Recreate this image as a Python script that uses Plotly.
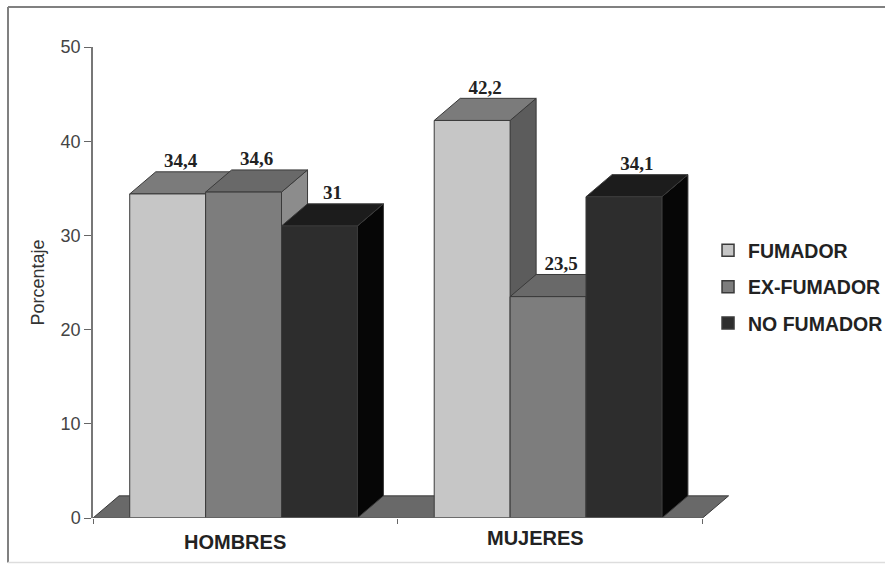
import plotly.graph_objects as go

categories = ["HOMBRES", "MUJERES"]
series_names = ["FUMADOR", "EX-FUMADOR", "NO FUMADOR"]
fumador = [34.4, 42.2]
ex_fumador = [34.6, 23.5]
no_fumador = [31.0, 34.1]
value_labels = [["34,4", "42,2"], ["34,6", "23,5"], ["31", "34,1"]]
y_ticks = [0, 10, 20, 30, 40, 50]

FRONT = ["#c6c6c6", "#7d7d7d", "#2d2d2d"]
TOP = ["#7b7b7b", "#696969", "#1c1c1c"]
SIDE = ["#5c5c5c", "#8c8c8c", "#060606"]
EDGE = "#3a3a3a"
BW = 0.249
DX = 0.0854
DY = 2.35
CENTERS = [0.494, 1.493]
XMAX = 2.09

series = [fumador, ex_fumador, no_fumador]
fig = go.Figure()


def poly(xs, ys, color):
    fig.add_trace(go.Scatter(
        x=xs + xs[:1], y=ys + ys[:1], mode="lines", fill="toself", fillcolor=color,
        line=dict(color=EDGE, width=1), hoverinfo="skip", showlegend=False,
    ))


# floor
poly([0, 2, 2 + DX, DX], [0, 0, DY, DY], "#696969")

# bars, painted left to right so later faces overlap earlier ones
for g, c in enumerate(CENTERS):
    for s, vals in enumerate(series):
        v = vals[g]
        x0 = c + (s - 1.5) * BW
        x1 = x0 + BW
        poly([x1, x1 + DX, x1 + DX, x1], [0, DY, v + DY, v], SIDE[s])
        poly([x0, x1, x1 + DX, x0 + DX], [v, v, v + DY, v + DY], TOP[s])
        poly([x0, x1, x1, x0], [0, 0, v, v], FRONT[s])

# x axis line
fig.add_trace(go.Scatter(x=[0, 2], y=[0, 0], mode="lines", line=dict(color="#666", width=1.5),
                         hoverinfo="skip", showlegend=False))

# value labels
for g, c in enumerate(CENTERS):
    for s, vals in enumerate(series):
        x0 = c + (s - 1.5) * BW
        fig.add_trace(go.Scatter(
            x=[x0 + BW / 2 + DX / 2], y=[vals[g] + DY], mode="text",
            text=[f"<b>{value_labels[s][g]}</b>"], textposition="top center",
            textfont=dict(family="Liberation Serif", size=19, color="#222"),
            hoverinfo="skip", showlegend=False, cliponaxis=False,
        ))

# legend entries
for s, name in enumerate(series_names):
    fig.add_trace(go.Scatter(
        x=[None], y=[None], mode="markers", name=name, legendgroup=name,
        marker=dict(symbol="square", size=12, color=FRONT[s], line=dict(color=EDGE, width=1.5)),
    ))

for name, xpos, ypos in zip(categories, [0.465, 1.452], [-0.0785, -0.0705]):
    fig.add_annotation(x=xpos, y=ypos, xref="x", yref="paper", text=f"<b>{name}</b>", showarrow=False,
                       font=dict(family="Liberation Sans", size=20, color="#222"))

# picture frame: left, top and faint bottom rules, in paper fractions of the plot area
PX = 1 / 637
PY = 1 / 471
L, T, B = -85 * PX, 1 + 40 * PY, -44.5 * PY
R = 1 + 155 * PX
fig.add_shape(type="line", xref="paper", yref="paper", x0=L, x1=L, y0=B, y1=T, line=dict(color="#808080", width=2))
fig.add_shape(type="line", xref="paper", yref="paper", x0=L, x1=R, y0=T, y1=T, line=dict(color="#808080", width=2))
fig.add_shape(type="line", xref="paper", yref="paper", x0=L, x1=R, y0=B, y1=B, line=dict(color="#dddddd", width=1.5))

fig.update_layout(
    width=885, height=564, autosize=False,
    margin=dict(l=93, r=155, t=47, b=46, autoexpand=False),
    paper_bgcolor="white", plot_bgcolor="white",
    font=dict(family="Liberation Sans", color="#333"),
    legend=dict(x=0.9655, xanchor="left", y=0.609, yanchor="top", tracegroupgap=8,
                font=dict(size=19.5, color="#222", weight=700), itemwidth=30, bgcolor="rgba(0,0,0,0)"),
    xaxis=dict(range=[0, XMAX], showgrid=False, zeroline=False, showline=False,
               tickmode="array", tickvals=[0, 1, 2], ticktext=["", "", ""],
               ticks="outside", ticklen=5, tickcolor="#666"),
    yaxis=dict(range=[0, 50], tickvals=y_ticks, showgrid=False, zeroline=False,
               showline=True, linecolor="#777", linewidth=1.5, ticks="outside", ticklen=7,
               tickcolor="#666", tickfont=dict(size=18, color="#444"),
               title=dict(text="Porcentaje", font=dict(size=18, color="#333"), standoff=11)),
)
fig.write_html("out.html", config={"displayModeBar": False},
               post_script="document.body.style.margin='0';document.documentElement.style.overflow='hidden';")
